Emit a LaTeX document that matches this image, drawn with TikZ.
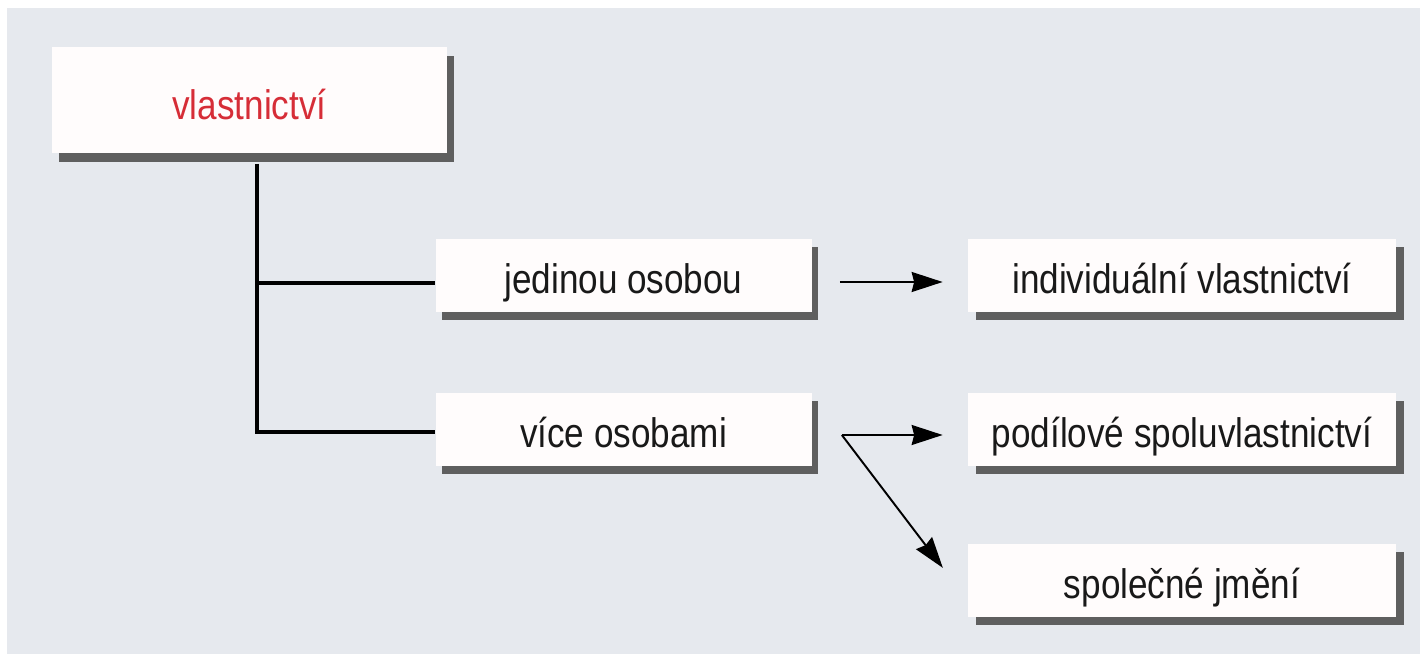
\documentclass[tikz,border=0pt]{standalone}
\usepackage{fontspec}
\setmainfont{Liberation Sans}[FakeStretch=0.85]
\usepackage{tikz}
\usetikzlibrary{shapes,arrows.meta,shadows}
\usepackage{xcolor}
\definecolor{bgblue}{RGB}{230,233,238}
\definecolor{shadowgray}{RGB}{95,95,95}
\definecolor{boxwhite}{RGB}{255,252,252}
\definecolor{titlered}{RGB}{214,45,55}
\definecolor{textgray}{RGB}{25,25,25}
\tikzstyle{topbox} = [rectangle, minimum width=7.9cm, minimum height=2.12cm, inner sep=0pt, text height=0.78cm, text depth=0cm, text centered, fill=boxwhite, text=titlered, font=\fontsize{23.5}{28}\selectfont, drop shadow={shadow xshift=0.14cm, shadow yshift=-0.18cm, fill=shadowgray, opacity=1}]
\tikzstyle{midbox} = [rectangle, minimum width=7.52cm, minimum height=1.46cm, inner sep=0pt, text height=0.74cm, text depth=0cm, text centered, fill=boxwhite, text=textgray, font=\fontsize{23.5}{28}\selectfont, drop shadow={shadow xshift=0.13cm, shadow yshift=-0.16cm, fill=shadowgray, opacity=1}]
\tikzstyle{endbox} = [rectangle, minimum width=8.56cm, minimum height=1.46cm, inner sep=0pt, text height=0.74cm, text depth=0cm, text centered, fill=boxwhite, text=textgray, font=\fontsize{23.5}{28}\selectfont, drop shadow={shadow xshift=0.16cm, shadow yshift=-0.16cm, fill=shadowgray, opacity=1}]
\tikzstyle{branch} = [line width=2.3pt, black]
\tikzstyle{arrow} = [line width=1.1pt, black, -{Stealth[length=0.62cm, width=0.4cm, inset=0.05cm]}]
\begin{document}
\begin{tikzpicture}[node distance=2cm]
    \useasboundingbox (-4.99,2.01) rectangle (23.41,-11.07);
    \fill [bgblue] (-4.85,1.85) rectangle (23.41,-11.07);
    \node (vl) [topbox] {vlastnictví};
    \node (jed) [midbox, below of=vl, xshift=7.48cm, yshift=-1.5cm] {jedinou osobou};
    \node (vic) [midbox, below of=jed, yshift=-1.08cm] {více osobami};
    \node (ind) [endbox, right of=jed, xshift=9.17cm] {individuální vlastnictví};
    \node (pod) [endbox, right of=vic, xshift=9.17cm] {podílové spoluvlastnictví};
    \node (spo) [endbox, below of=pod, yshift=-1.01cm] {společné jmění};

    %\coordinate (fork) at (vic.east);
    \coordinate (fork) at ([xshift=0.6cm, yshift=-0.11cm]vic.east);

    \draw [branch] ([xshift=0.15cm, yshift=-0.2cm]vl.south) |- ([yshift=-0.15cm]jed.west);
    \draw [branch] ([xshift=0.15cm, yshift=-0.2cm]vl.south) |- ([yshift=-0.05cm]vic.west);
    \draw [arrow, shorten <=0.56cm, shorten >=0.5cm] ([yshift=-0.13cm]jed.east) -- ([yshift=-0.13cm]ind.west);
    \draw [arrow, shorten >=0.5cm] (fork) -- ([yshift=-0.11cm]pod.west);
    \draw [arrow, shorten >=0.82cm] (fork) -- ([yshift=-0.41cm]spo.west);
\end{tikzpicture}
\end{document}
